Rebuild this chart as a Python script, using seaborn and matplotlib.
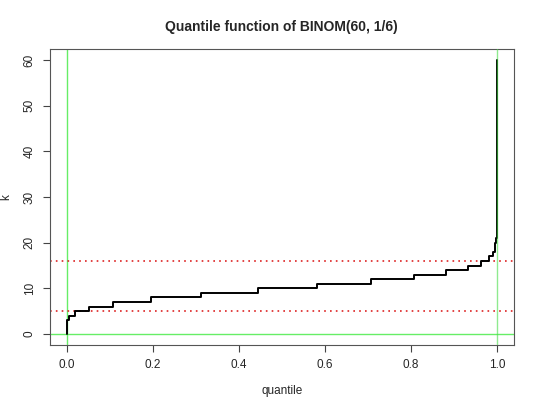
import matplotlib
matplotlib.use('Agg')
import matplotlib.pyplot as plt
import seaborn as sns
import pandas as pd

# values k of the quantile function and the cdf level where each step starts
k = list(range(0, 22)) + [60]
p_start = [0.0, 0.00002, 0.00023, 0.00148, 0.00633, 0.02015, 0.05110,
           0.10784, 0.19538, 0.31137, 0.44540, 0.58211, 0.70639, 0.80789,
           0.88284, 0.93316, 0.96402, 0.98138, 0.99037, 0.99466, 0.99656,
           0.99734, 0.99764]
p_end = 1.0
lo_k, hi_k = 5, 16   # 2.5% and 97.5% quantiles

df = pd.DataFrame({'p': p_start[:len(k) - 1] + [p_end], 'k': k})

sns.set_style('white')
plt.rcParams['font.family'] = ['Liberation Sans', 'DejaVu Sans']

fig = plt.figure(figsize=(5.4, 4.08), dpi=100)
ax = fig.add_axes([0.0917, 0.1544, 0.8603, 0.7256])

ax.axvline(0, color='#66ee66', linewidth=1.0, zorder=1)
ax.axhline(0, color='#66ee66', linewidth=1.0, zorder=1)
ax.axhline(lo_k, color='#dd2222', linestyle=(0, (1, 2.5)), linewidth=1.2, zorder=1)
ax.axhline(hi_k, color='#dd2222', linestyle=(0, (1, 2.5)), linewidth=1.2, zorder=1)

sns.lineplot(data=df, x='p', y='k', drawstyle='steps-post', color='black',
             linewidth=1.4, ax=ax, estimator=None, sort=False, zorder=3)

# green line at 1 drawn over the curve, giving the dark green overlap
ax.axvline(1, color='#44dd44', linewidth=1.0, alpha=0.6, zorder=4)

ax.set_xlim(-0.04, 1.04)
ax.set_ylim(-2.4, 62.4)
ax.set_xticks([0.0, 0.2, 0.4, 0.6, 0.8, 1.0])
ax.set_xticklabels(['0.0', '0.2', '0.4', '0.6', '0.8', '1.0'])
ax.set_yticks([0, 10, 20, 30, 40, 50, 60])
for lab in ax.get_yticklabels():
    lab.set_rotation(90)
    lab.set_va('center')
ax.tick_params(axis='both', direction='out', length=5, width=0.8,
               color='#444444', labelsize=8.5, pad=5, bottom=True, left=True)
for s in ax.spines.values():
    s.set_color('#555555')
    s.set_linewidth(0.8)

ax.set_xlabel('quantile', fontsize=8.5, labelpad=10)
ax.set_ylabel('k', fontsize=8.5, labelpad=8)
ax.set_title('Quantile function of BINOM(60, 1/6)', fontsize=10,
             fontweight='bold', pad=13)

fig.savefig('out.png', dpi=100)
